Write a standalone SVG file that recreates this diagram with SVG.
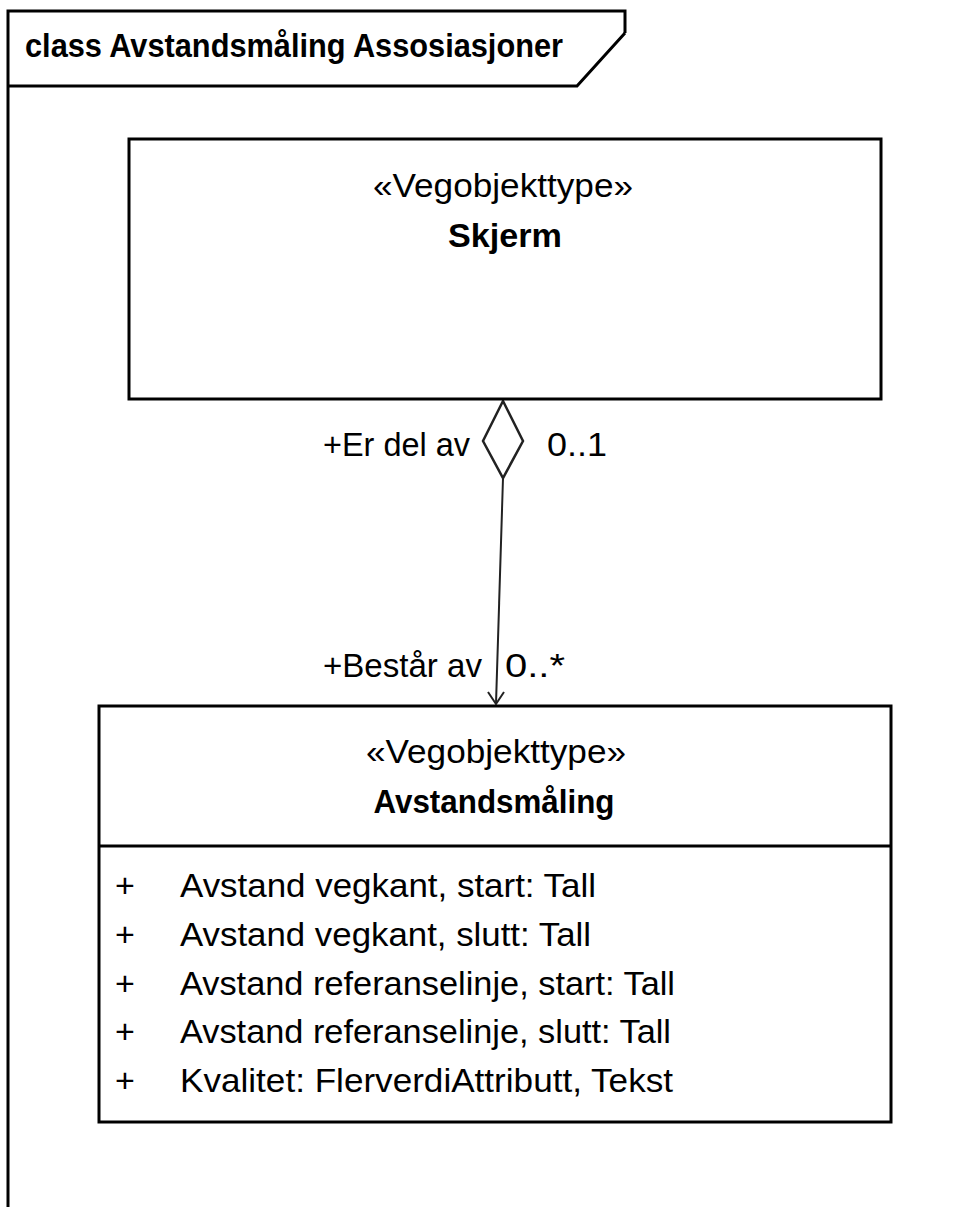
<svg xmlns="http://www.w3.org/2000/svg" width="976" height="1207" viewBox="0 0 976 1207">
<style>
text{font-family:"Liberation Sans",Arial,sans-serif;font-size:34px;fill:#000}
.b{font-weight:bold}
.box{fill:#fff;stroke:#000;stroke-width:3}
.frame{fill:none;stroke:#000;stroke-width:3}
.conn{fill:none;stroke:#222;stroke-width:2}
</style>
<rect width="976" height="1207" fill="#fff"/>
<g id="frame">
<path class="frame" d="M8,1207 V11 H625 V33"/>
<path class="frame" d="M625,33 L577,86 H8" stroke-width="2.5"/>
<text class="b" x="25" y="57" textLength="538" lengthAdjust="spacingAndGlyphs">class Avstandsmåling Assosiasjoner</text>
</g>
<g id="connectors">
<line class="conn" x1="503" y1="478" x2="496" y2="704"/>
<polyline class="conn" points="488,692 496,704 504,692"/>
<polygon points="503,401 523,441 503,478 483,441" fill="#fff" stroke="#222" stroke-width="2.5"/>
<text x="323" y="456" textLength="147" lengthAdjust="spacingAndGlyphs">+Er del av</text>
<text x="547" y="456" textLength="60" lengthAdjust="spacingAndGlyphs">0..1</text>
<text x="323" y="677" textLength="159" lengthAdjust="spacingAndGlyphs">+Består av</text>
<text x="505" y="677" textLength="60" lengthAdjust="spacingAndGlyphs">0..*</text>
</g>
<g id="node-skjerm">
<rect class="box" x="129" y="139" width="752" height="260"/>
<text x="503" y="197" text-anchor="middle" textLength="260" lengthAdjust="spacingAndGlyphs">«Vegobjekttype»</text>
<text class="b" x="505" y="247" text-anchor="middle" textLength="114" lengthAdjust="spacingAndGlyphs">Skjerm</text>
</g>
<g id="node-avstandsmaling">
<rect class="box" x="99" y="706" width="792" height="416"/>
<line x1="99" y1="846" x2="891" y2="846" stroke="#000" stroke-width="3"/>
<text x="496" y="763" text-anchor="middle" textLength="260" lengthAdjust="spacingAndGlyphs">«Vegobjekttype»</text>
<text class="b" x="494" y="813" text-anchor="middle" textLength="241" lengthAdjust="spacingAndGlyphs">Avstandsmåling</text>
<text x="115" y="897">+</text>
<text x="180" y="897" textLength="416" lengthAdjust="spacingAndGlyphs">Avstand vegkant, start: Tall</text>
<text x="115" y="946">+</text>
<text x="180" y="946" textLength="411" lengthAdjust="spacingAndGlyphs">Avstand vegkant, slutt: Tall</text>
<text x="115" y="995">+</text>
<text x="180" y="995" textLength="495" lengthAdjust="spacingAndGlyphs">Avstand referanselinje, start: Tall</text>
<text x="115" y="1043">+</text>
<text x="180" y="1043" textLength="491" lengthAdjust="spacingAndGlyphs">Avstand referanselinje, slutt: Tall</text>
<text x="115" y="1092">+</text>
<text x="180" y="1092" textLength="493" lengthAdjust="spacingAndGlyphs">Kvalitet: FlerverdiAttributt, Tekst</text>
</g>
</svg>
